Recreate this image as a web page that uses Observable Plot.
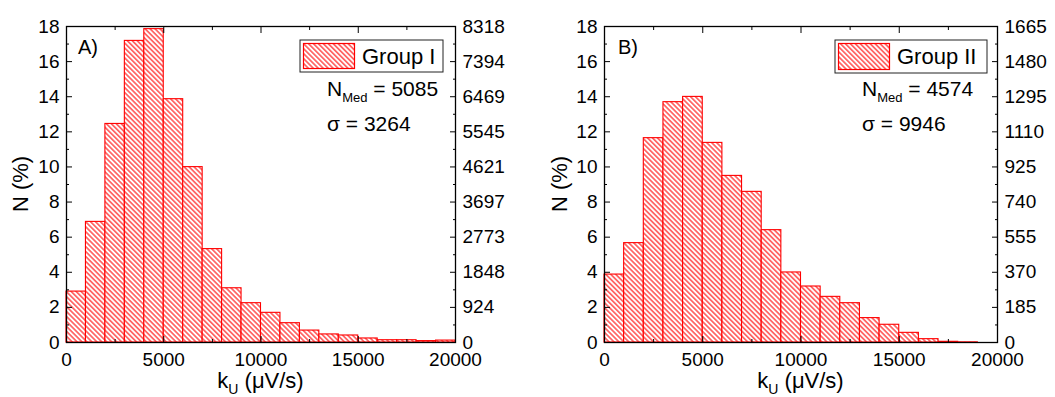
<!DOCTYPE html>
<html>
<head>
<meta charset="utf-8">
<script src="https://cdn.jsdelivr.net/npm/d3@7"></script>
<script src="https://cdn.jsdelivr.net/npm/@observablehq/plot@0.6"></script>
<style>
  body { margin: 0; background: #fff; }
  #wrap { display: flex; width: 1055px; height: 397px; }
  svg { font-family: "Liberation Sans", Arial, sans-serif; }
</style>
</head>
<body>
<div id="wrap"></div>
<script>
// ---- data ----
const binStart = [0,1000,2000,3000,4000,5000,6000,7000,8000,9000,10000,11000,12000,13000,14000,15000,16000,17000,18000,19000];
const binWidth = 1000;
const groupI  = [2.9,6.87,12.45,17.18,17.85,13.86,9.99,5.32,3.09,2.24,1.69,1.10,0.68,0.46,0.40,0.23,0.13,0.13,0.08,0.11];
const groupII = [3.87,5.66,11.64,13.69,13.99,11.37,9.49,8.58,6.40,3.99,3.19,2.60,2.24,1.39,1.01,0.55,0.19,0.04,0.01,0.0];
const yTicksMajor = [0,2,4,6,8,10,12,14,16,18];
const yTicksMinor = [1,3,5,7,9,11,13,15,17];
const xTicksMajor = [0,5000,10000,15000,20000];
const xTicksMinor = [2500,7500,12500,17500];
const rightLabelsI  = ["0","924","1848","2773","3697","4621","5545","6469","7394","8318"];
const rightLabelsII = ["0","185","370","555","740","925","1110","1295","1480","1665"];

const panels = [
  {id:"A", values: groupI, right: rightLabelsI, legend:"Group I", med:"5085", sigma:"3264", tag:"A)",
   width:527, ml:66, mr:72, box:[300,40,143,32], textX:327, tagX:78, yTitleX:28},
  {id:"B", values: groupII, right: rightLabelsII, legend:"Group II", med:"4574", sigma:"9946", tag:"B)",
   width:528, ml:77, mr:58, box:[308,40,152,33], textX:335, tagX:91, yTitleX:40}
];

const H = 397, MT = 26, MB = 55;
const wrap = document.getElementById("wrap");

for (const p of panels) {
  const data = binStart.map((s, i) => ({x1: s, x2: s + binWidth, v: p.values[i]}));
  const pid = "hatch" + p.id;
  const svg = Plot.plot({
    width: p.width, height: H,
    marginLeft: p.ml, marginRight: p.mr, marginTop: MT, marginBottom: MB,
    style: {fontFamily: "Liberation Sans, Arial, sans-serif", color: "black", background: "white"},
    x: {domain: [0, 20000], axis: null},
    y: {domain: [0, 18], axis: null},
    marks: [
      Plot.rectY(data, {x1: "x1", x2: "x2", y: "v", fill: `url(#${pid})`, stroke: "#ff0000", strokeWidth: 1.1}),
      Plot.frame({stroke: "black", strokeWidth: 1.3}),
      // bottom axis
      Plot.axisX({anchor: "bottom", ticks: xTicksMajor, tickSize: -6, tickPadding: 16, fontSize: 19, tickFormat: d => String(d), label: null}),
      Plot.axisX({anchor: "bottom", ticks: xTicksMinor, tickSize: -3, tickFormat: () => "", label: null}),
      // top axis
      Plot.axisX({anchor: "top", ticks: xTicksMajor, tickSize: -6, tickFormat: () => "", label: null}),
      Plot.axisX({anchor: "top", ticks: xTicksMinor, tickSize: -3, tickFormat: () => "", label: null}),
      // left axis
      Plot.axisY({anchor: "left", ticks: yTicksMajor, tickSize: -6, tickPadding: 13, fontSize: 19, tickFormat: d => String(d), label: null}),
      Plot.axisY({anchor: "left", ticks: yTicksMinor, tickSize: -3, tickFormat: () => "", label: null}),
      // right axis
      Plot.axisY({anchor: "right", ticks: yTicksMajor, tickSize: -6, tickPadding: 13, fontSize: 19, tickFormat: d => p.right[Math.round(d / 2)], label: null}),
      Plot.axisY({anchor: "right", ticks: yTicksMinor, tickSize: -3, tickFormat: () => "", label: null})
    ]
  });

  const s = d3.select(svg);
  const defs = s.insert("defs", ":first-child");
  const pat = defs.append("pattern")
    .attr("id", pid).attr("patternUnits", "userSpaceOnUse")
    .attr("width", 3.5).attr("height", 3.5)
    .attr("patternTransform", "rotate(-45)");
  pat.append("rect").attr("width", 3.5).attr("height", 3.5).attr("fill", "white");
  pat.append("line").attr("x1", 1.75).attr("x2", 1.75).attr("y1", -1).attr("y2", 4.5)
    .attr("stroke", "#ff0000").attr("stroke-width", 1.05);

  const frameL = p.ml, frameR = p.width - p.mr;
  const font = "Liberation Sans, Arial, sans-serif";

  // legend
  const [bx, by, bw, bh] = p.box;
  s.append("rect").attr("x", bx).attr("y", by).attr("width", bw).attr("height", bh)
    .attr("fill", "white").attr("stroke", "#222").attr("stroke-width", 1);
  s.append("rect").attr("x", bx + 3.5).attr("y", by + 3.5).attr("width", 51).attr("height", bh - 7)
    .attr("fill", `url(#${pid})`).attr("stroke", "#ff0000").attr("stroke-width", 1.2);
  s.append("text").attr("x", bx + 62).attr("y", by + 23.5).attr("text-anchor", "start")
    .attr("font-family", font).attr("font-size", 22).attr("fill", "black").text(p.legend);

  // stats
  const t1 = s.append("text").attr("x", p.textX).attr("y", 96).attr("text-anchor", "start")
    .attr("font-family", font).attr("font-size", 21).attr("fill", "black");
  t1.append("tspan").text("N");
  t1.append("tspan").attr("font-size", 13).attr("dy", 6).text("Med");
  t1.append("tspan").attr("dy", -6).text(" = " + p.med);
  s.append("text").attr("x", p.textX).attr("y", 131).attr("text-anchor", "start")
    .attr("font-family", font).attr("font-size", 21).attr("fill", "black").text("σ = " + p.sigma);

  // panel tag
  s.append("text").attr("x", p.tagX).attr("y", 54).attr("text-anchor", "start")
    .attr("font-family", font).attr("font-size", 20).attr("fill", "black").text(p.tag);

  // axis titles
  s.append("text").attr("transform", `translate(${p.yTitleX},184) rotate(-90)`)
    .attr("text-anchor", "middle").attr("font-family", font).attr("font-size", 22).attr("fill", "black").text("N (%)");
  const xt = s.append("text").attr("x", (frameL + frameR) / 2).attr("y", 388).attr("text-anchor", "middle")
    .attr("font-family", font).attr("font-size", 22).attr("fill", "black");
  xt.append("tspan").text("k");
  xt.append("tspan").attr("font-size", 14).attr("dy", 6).text("U");
  xt.append("tspan").attr("dy", -6).text(" (μV/s)");

  wrap.appendChild(svg);
}
</script>
</body>
</html>
